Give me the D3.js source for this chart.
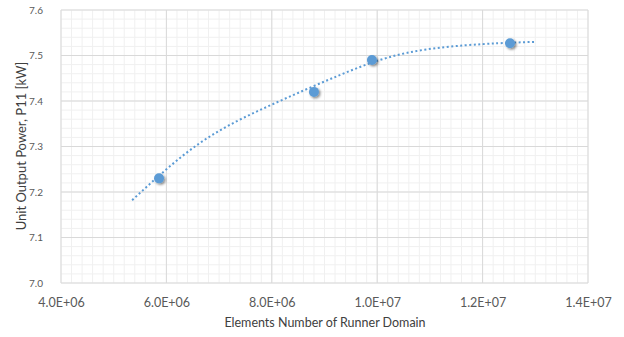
<!DOCTYPE html>
<html>
<head>
<meta charset="utf-8">
<script src="https://cdn.jsdelivr.net/npm/d3@7"></script>
<style>
body { margin: 0; background: #fff; }
svg { font-family: Lato, "Open Sans", sans-serif; }
</style>
</head>
<body>
<div id="chart-area"></div>
<script>
// measured points
var elements = [5.86e6, 8.8e6, 9.9e6, 1.252e7];
var power = [7.23, 7.42, 7.49, 7.527];
// trendline
var trendX = [5.35e6, 6.64e6, 7.98e6, 9.29e6, 1.057e7, 1.2e7, 1.3e7];
var trendY = [7.182, 7.308, 7.391, 7.457, 7.506, 7.525, 7.53];
var xTicks = [4e6, 6e6, 8e6, 1e7, 1.2e7, 1.4e7];
var xTickLabels = ["4.0E+06", "6.0E+06", "8.0E+06", "1.0E+07", "1.2E+07", "1.4E+07"];
var yTicks = [7.0, 7.1, 7.2, 7.3, 7.4, 7.5, 7.6];

var margin = {left: 61, right: 36, top: 10, bottom: 54};
var width = 624 - margin.left - margin.right;
var height = 337 - margin.top - margin.bottom;

var svg = d3.select("#chart-area").append("svg")
    .attr("width", 624)
    .attr("height", 337);

var defs = svg.append("defs");
var shadow = defs.append("filter").attr("id", "shadow")
    .attr("x", "-50%").attr("y", "-50%").attr("width", "200%").attr("height", "200%");
shadow.append("feDropShadow")
    .attr("dx", 1.5).attr("dy", 1.5).attr("stdDeviation", 1.2)
    .attr("flood-color", "#000").attr("flood-opacity", 0.45);

var g = svg.append("g")
    .attr("transform", "translate(" + margin.left + "," + margin.top + ")");

var x = d3.scaleLinear().domain([4e6, 1.4e7]).range([0, width]);
var y = d3.scaleLinear().domain([7.0, 7.6]).range([height, 0]);

// minor grid
var xMinor = d3.range(0, 51).map((i) => 4e6 + i * 2e5);
var yMinor = d3.range(0, 31).map((i) => 7.0 + i * 0.02);
g.append("g").selectAll("line").data(xMinor).enter().append("line")
    .attr("x1", (d) => x(d)).attr("x2", (d) => x(d))
    .attr("y1", 0).attr("y2", height)
    .attr("stroke", "#f0f0f0").attr("stroke-width", 1);
g.append("g").selectAll("line").data(yMinor).enter().append("line")
    .attr("y1", (d) => y(d)).attr("y2", (d) => y(d))
    .attr("x1", 0).attr("x2", width)
    .attr("stroke", "#f0f0f0").attr("stroke-width", 1);

// major grid
g.append("g").selectAll("line").data(xTicks).enter().append("line")
    .attr("x1", (d) => x(d)).attr("x2", (d) => x(d))
    .attr("y1", 0).attr("y2", height)
    .attr("stroke", "#d9d9d9").attr("stroke-width", 1);
g.append("g").selectAll("line").data(yTicks).enter().append("line")
    .attr("y1", (d) => y(d)).attr("y2", (d) => y(d))
    .attr("x1", 0).attr("x2", width)
    .attr("stroke", "#d9d9d9").attr("stroke-width", 1);

// axes (labels only)
var xAxis = d3.axisBottom(x).tickValues(xTicks).tickSize(0)
    .tickFormat((d, i) => xTickLabels[i]);
g.append("g")
    .attr("class", "x-axis")
    .attr("transform", "translate(0," + height + ")")
    .call(xAxis)
    .call((a) => a.select(".domain").remove())
    .selectAll("text")
        .attr("y", 15)
        .attr("font-size", "12.5px")
        .attr("font-family", "Lato, sans-serif")
        .attr("fill", "#595959");

var yAxis = d3.axisLeft(y).tickValues(yTicks).tickSize(0)
    .tickFormat(d3.format(".1f"));
g.append("g")
    .attr("class", "y-axis")
    .call(yAxis)
    .call((a) => a.select(".domain").remove())
    .selectAll("text")
        .attr("x", -18)
        .attr("font-size", "10px")
        .attr("font-family", "Lato, sans-serif")
        .attr("fill", "#595959");

// labels
svg.append("text")
    .attr("x", 325)
    .attr("y", 327)
    .attr("font-size", "12.5px")
    .attr("text-anchor", "middle")
    .attr("fill", "#404040")
    .text("Elements Number of Runner Domain");
svg.append("text")
    .attr("transform", "translate(26,146) rotate(-90)")
    .attr("font-size", "13px")
    .attr("text-anchor", "middle")
    .attr("fill", "#404040")
    .text("Unit Output Power, P11 [kW]");

// trendline
var trend = trendX.map((d, i) => [d, trendY[i]]);
var line = d3.line()
    .x((d) => x(d[0]))
    .y((d) => y(d[1]))
    .curve(d3.curveNatural);
g.append("path")
    .datum(trend)
    .attr("d", line)
    .attr("fill", "none")
    .attr("stroke", "#5b9bd5")
    .attr("stroke-width", 2)
    .attr("stroke-dasharray", "2,2.5");

// points
g.selectAll("circle")
    .data(elements)
    .enter()
    .append("circle")
    .attr("cx", (d) => x(d))
    .attr("cy", (d, i) => y(power[i]))
    .attr("r", 5)
    .attr("fill", "#5b9bd5")
    .attr("filter", "url(#shadow)");
</script>
</body>
</html>
